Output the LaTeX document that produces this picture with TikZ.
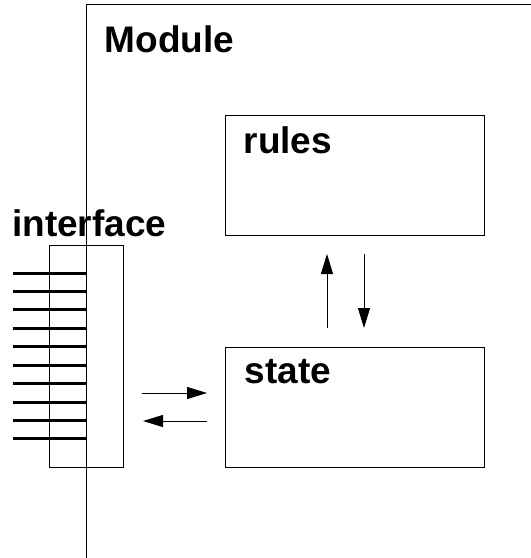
\documentclass[tikz,border=0pt]{standalone}
\usepackage{fontspec}
\setmainfont{Liberation Sans}
\usetikzlibrary{arrows.meta}
\begin{document}
\begin{tikzpicture}[x=1pt,y=-1pt,
  frame/.style={draw=black,line width=1pt},
  lbl/.style={anchor=base west,inner sep=0pt,font=\fontsize{37}{41}\selectfont\bfseries},
  arr/.style={line width=1pt,-{Triangle[length=20pt,width=12pt]}},
  pin/.style={line width=3pt}]
\useasboundingbox (0,0) rectangle (531,558);
\clip (0,0) rectangle (531,558);
% module frame
\draw[frame] (86,4) rectangle (560,600);
\node[lbl] (modlbl) at (104.5,52) {Module};
% rules and state boxes
\node[frame,minimum width=259pt,minimum height=120pt,inner sep=0pt] (rules) at (354.5,175.5) {};
\node[frame,minimum width=259pt,minimum height=120pt,inner sep=0pt] (state) at (354.5,407) {};
\node[lbl] (ruleslbl) at (243.5,153) {rules};
\node[lbl] (statelbl) at (244.5,383) {state};
% interface box
\node[frame,minimum width=74pt,minimum height=222pt,inner sep=0pt] (iface) at (86.5,356) {};
\node[lbl] (ifacelbl) at (12,236) {interface};
% pins
\foreach \k in {0,...,9}{
  \coordinate (p\k a) at (13,273+18.44*\k);
  \coordinate (p\k b) at (87,273+18.44*\k);
  \draw[pin] (p\k a) -- (p\k b);
}
% arrows
\coordinate (ra) at (142,393); \coordinate (rb) at (207,393);
\coordinate (la) at (207,421); \coordinate (lb) at (143,421);
\coordinate (ua) at (327,328); \coordinate (ub) at (327,254);
\coordinate (da) at (364,254); \coordinate (db) at (364,328);
\draw[arr] (ra) -- (rb);
\draw[arr] (la) -- (lb);
\draw[arr] (ua) -- (ub);
\draw[arr] (da) -- (db);
\end{tikzpicture}
\end{document}
